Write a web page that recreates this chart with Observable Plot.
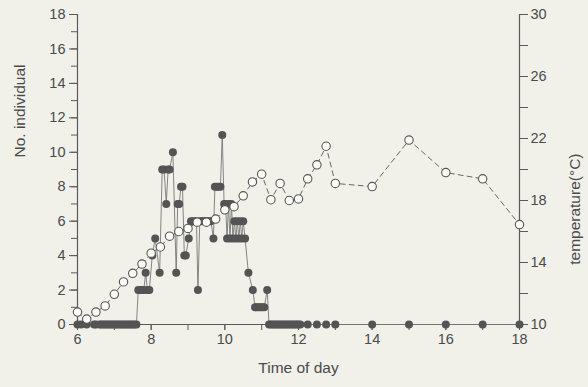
<!DOCTYPE html>
<html><head><meta charset="utf-8">
<script src="https://cdn.jsdelivr.net/npm/d3@7"></script>
<script src="https://cdn.jsdelivr.net/npm/@observablehq/plot@0.6"></script>
<style>
html,body{margin:0;padding:0;background:#f1f1ea;}
</style></head><body><div id="chart"></div>
<script>
const countTimes = [6.0,6.1,6.25,6.45,6.5,6.6,6.65,6.7,6.75,6.8,6.85,6.9,6.95,7.0,7.05,7.1,7.15,7.2,7.25,7.3,7.35,7.4,7.45,7.5,7.55,7.6,
  7.65,7.7,7.75,7.8,7.85,7.9,7.95,8.03,8.11,8.23,8.3,8.35,8.41,8.46,8.5,8.59,8.68,8.72,8.76,8.81,8.85,8.9,8.94,
  9.02,9.08,9.13,9.18,9.23,9.27,9.32,9.37,9.42,9.47,9.52,9.57,9.62,9.69,9.73,9.78,9.83,9.88,9.93,9.98,
  10.02,10.06,10.1,10.14,10.18,10.22,10.26,10.3,10.34,10.38,10.42,10.46,10.5,10.55,10.64,10.76,10.82,10.87,10.92,10.97,
  11.02,11.07,11.15,11.2,11.25,11.3,11.35,11.4,11.45,11.5,11.55,11.6,11.65,11.7,11.75,11.8,11.85,11.9,11.95,12.0,12.05,
  12.25,12.5,12.75,13.0,14,15,16,17,18];
const countValues = [0,0,0,0,0,0,0,0,0,0,0,0,0,0,0,0,0,0,0,0,0,0,0,0,0,0,
  2,2,2,2,3,2,2,4,5,3,9,9,7,9,9,10,3,7,7,8,8,4,4,
  5,6,6,6,6,2,6,6,6,6,6,6,6,5,8,8,8,8,11,7,
  7,5,7,5,7,5,6,5,6,5,6,5,6,5,3,2,1,1,1,1,
  1,1,2,0,0,0,0,0,0,0,0,0,0,0,0,0,0,0,0,0,0,
  0,0,0,0,0,0,0,0,0];
const tempTimes = [6.0,6.25,6.5,6.75,7.0,7.25,7.5,7.75,8.0,8.25,8.5,8.75,9.0,9.25,9.5,9.75,10.0,10.25,10.5,10.75,11.0,11.25,11.5,11.75,12.0,12.25,12.5,12.75,13.0,14,15,16,17,18];
const tempValues = [10.8,10.35,10.8,11.2,11.95,12.75,13.3,13.9,14.6,15.0,15.7,16.0,16.2,16.6,16.6,16.8,17.4,17.6,18.3,19.2,19.7,18.05,19.1,18.0,18.1,19.4,20.3,21.5,19.1,18.9,21.9,19.8,19.4,16.45];

const xLabelTicks = [6,8,10,12,14,16,18];
const xMinorTicks = [6,7,8,9,10,11,12,13,14,15,16,17,18];
const yLabelTicks = [0,2,4,6,8,10,12,14,16,18];
const yMinorTicks = [0,1,2,3,4,5,6,7,8,9,10,11,12,13,14,15,16,17,18];
const tLabelTicks = [10,14,18,22,26,30];
const tMinorTicks = [10,12,14,16,18,20,22,24,26,28,30];
const xDomain = [6,18], countDomain = [0,18], tempDomain = [10,30];

const toY = t => (t - tempDomain[0]) / (tempDomain[1] - tempDomain[0]) * (countDomain[1] - countDomain[0]) + countDomain[0];
const fromY = y => Math.round((y - countDomain[0]) / (countDomain[1] - countDomain[0]) * (tempDomain[1] - tempDomain[0]) + tempDomain[0]);

const counts = countTimes.map((t, i) => ({t, c: countValues[i]}));
const temps = tempTimes.map((t, i) => ({t, y: toY(tempValues[i])}));

const ink = "#5a5a5a";
const chart = Plot.plot({
  width: 588, height: 387,
  marginLeft: 77, marginRight: 69, marginTop: 14, marginBottom: 63,
  x: {domain: xDomain},
  y: {domain: countDomain},
  style: {background: "#f1f1ea", fontFamily: "Liberation Sans, Arial, sans-serif", fontSize: "14px", color: "#4a4a4a"},
  marks: [
    Plot.axisY(yMinorTicks, {anchor: "left", tickSize: 6, tickFormat: () => "", label: null, stroke: ink}),
    Plot.axisY(yLabelTicks, {anchor: "left", tickSize: 8, tickPadding: 4, label: null, stroke: ink, fontSize: 14.5}),
    Plot.axisY(tMinorTicks.map(toY), {anchor: "right", tickSize: 8, tickFormat: () => "", label: null, stroke: ink}),
    Plot.axisY(tLabelTicks.map(toY), {anchor: "right", tickSize: 8, tickPadding: 3, tickFormat: fromY, label: null, stroke: ink, fontSize: 14.5}),
    Plot.axisX(xMinorTicks, {tickSize: 6, tickFormat: () => "", label: null, stroke: ink}),
    Plot.axisX(xLabelTicks, {tickSize: 6, tickPadding: 3, label: null, stroke: ink, fontSize: 14.5}),
    Plot.ruleX([xDomain[0], xDomain[1]], {stroke: ink, strokeWidth: 1.2}),
    Plot.ruleY([countDomain[0]], {stroke: ink, strokeWidth: 1.2}),
    Plot.line(counts, {x: "t", y: "c", stroke: "#777", strokeWidth: 0.9}),
    Plot.dot(counts, {x: "t", y: "c", r: 4, fill: "#545454", stroke: "none"}),
    Plot.line(temps, {x: "t", y: "y", stroke: "#666", strokeWidth: 1, strokeDasharray: "5,4"}),
    Plot.dot(temps, {x: "t", y: "y", r: 4.2, fill: "#fbfbf7", stroke: "#555", strokeWidth: 1.1}),
    Plot.text(["No. individual"], {frameAnchor: "left", dx: -57, dy: -12, rotate: -90, fontSize: 15.5, fill: "#4a4a4a"}),
    Plot.text(["temperature(°C)"], {frameAnchor: "right", dx: 56, dy: -16, rotate: -90, fontSize: 15.5, fill: "#4a4a4a"}),
    Plot.text(["Time of day"], {frameAnchor: "bottom", dy: 48, fontSize: 15.5, fill: "#4a4a4a"})
  ]
});
document.getElementById("chart").appendChild(chart);
</script>
</body></html>
